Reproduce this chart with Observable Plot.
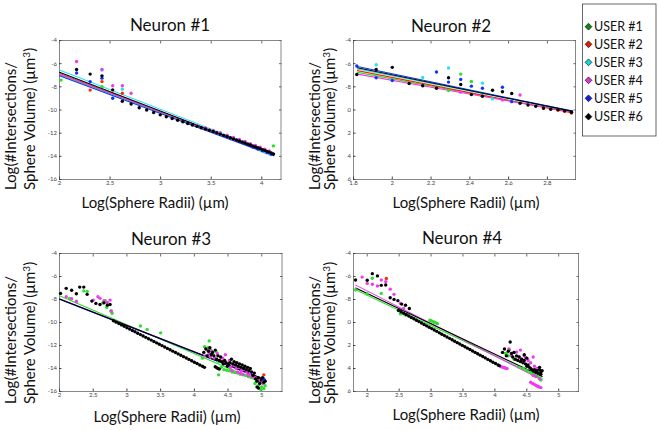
<!DOCTYPE html>
<html><head><meta charset="utf-8">
<script src="https://cdn.jsdelivr.net/npm/d3@7"></script>
<script src="https://cdn.jsdelivr.net/npm/@observablehq/plot@0.6"></script>
<style>
body{margin:0;background:#fff;}
#root{position:relative;width:659px;height:430px;overflow:hidden;background:#fff;font-family:Lato,"Open Sans",sans-serif;}
#overlay{position:absolute;left:0;top:0;}
</style></head><body><div id="root"></div>
<script>
// ---------- categories / labels ----------
const users = ["USER #1","USER #2","USER #3","USER #4","USER #5","USER #6"];
const userColors = ["#2de02d","#ff2a00","#22e4ee","#ee3cee","#1034ff","#000000"];
const legendFill = ["#0a8a0a","#e81800","#10d8e0","#e030e0","#1020e0","#000000"];
const panelTitles = ["Neuron #1","Neuron #2","Neuron #3","Neuron #4"];
const xLabel = "Log(Sphere Radii) (µm)";
const yLabel1 = "Log(#Intersections/";
const yLabel2 = "Sphere Volume) (µm";
const yTicks = [-4,-6,-8,-10,-12,-14,-16];
const n1_xTicks = [2,2.5,3,3.5,4];
const n2_xTicks = [1.8,2,2.2,2.4,2.6,2.8];
const n3_xTicks = [2,2.5,3,3.5,4,4.5,5];
const n4_xTicks = [2,2.5,3,3.5,4,4.5,5];

// ---------- Neuron #1 ----------
const n1_user1 = [[2.015,-7.42],[2.42,-7.98],[4.115,-13.1]];
const n1_user2 = [[2.303,-8.28],[2.42,-7.55],[2.621,-8.55]];
const n1_user3 = [[2.42,-6.55],[2.621,-8.2],[3.984,-13.45],[4.03,-13.62],[4.073,-13.78],[4.094,-13.85]];
const n1_user4 = [[2.169,-5.81],[2.42,-6.5],[2.526,-7.9],[2.621,-7.9],[2.708,-8.55],[3.359,-11.35],[3.442,-11.56],[3.519,-11.76],[3.59,-11.97],[3.657,-12.17],[3.72,-12.37],[3.778,-12.55],[3.834,-12.72],[3.887,-12.9],[3.937,-13.06],[3.984,-13.22],[4.03,-13.38],[4.073,-13.53]];
const n1_user5 = [[2.169,-6.8],[2.303,-7.55],[2.42,-7.25],[2.526,-8.98],[3.912,-13.2],[3.961,-13.37],[4.007,-13.53],[4.052,-13.68],[4.094,-13.82]];
const n1_user6 = [[2.169,-6.5],[2.303,-6.9],[2.42,-7.05],[2.526,-8.26],[2.621,-9.25],[2.708,-9.48],[2.788,-9.8],[2.862,-10.0],[2.931,-10.22],[2.996,-10.42],[3.056,-10.58],[3.114,-10.74],[3.168,-10.88],[3.219,-11.02],[3.268,-11.16],[3.314,-11.29],[3.359,-11.41],[3.401,-11.53],[3.442,-11.64],[3.481,-11.75],[3.519,-11.86],[3.555,-11.97],[3.59,-12.08],[3.624,-12.19],[3.657,-12.29],[3.689,-12.39],[3.72,-12.49],[3.75,-12.58],[3.778,-12.67],[3.807,-12.76],[3.834,-12.85],[3.861,-12.94],[3.887,-13.02],[3.912,-13.1],[3.937,-13.18],[3.961,-13.26],[3.984,-13.34],[4.007,-13.42],[4.03,-13.5],[4.052,-13.57],[4.073,-13.64],[4.094,-13.71],[4.115,-13.8]];
const n1_fits = [[2,-6.95,4.12,-13.85],[2,-6.85,4.12,-13.85],[2,-6.55,4.12,-13.75],[2,-6.9,4.12,-13.8],[2,-7.05,4.12,-13.95],[2,-6.75,4.12,-13.85]];

// ---------- Neuron #2 ----------
const n2_user1 = [[2.29,-8.32],[2.353,-6.9],[2.408,-7.54]];
const n2_user2 = [[2.78,-9.87],[2.855,-10.02],[2.889,-10.12],[2.924,-10.26]];
const n2_user3 = [[1.917,-6.09],[2.157,-7.19],[2.29,-6.38],[2.465,-7.68],[2.517,-9.04]];
const n2_user4 = [[2.353,-8.46],[2.568,-9.13],[2.659,-8.7]];
const n2_user5 = [[1.817,-6.2],[1.917,-7.22],[2.0,-7.45],[2.228,-6.72],[2.29,-7.59],[2.353,-7.36],[2.408,-7.94],[2.465,-8.12],[2.568,-8.03],[2.616,-9.28]];
const n2_user6 = [[1.817,-6.93],[1.917,-6.49],[2.0,-6.32],[2.087,-7.71],[2.157,-7.91],[2.228,-8.12],[2.29,-7.22],[2.353,-7.8],[2.408,-8.67],[2.465,-8.81],[2.517,-8.29],[2.568,-8.43],[2.616,-8.58],[2.659,-9.42],[2.70,-9.57],[2.74,-9.68],[2.78,-9.83],[2.817,-9.94],[2.855,-9.97],[2.889,-10.06],[2.924,-10.2]];
const n2_fits = [[1.82,-6.75,2.93,-10.2],[1.82,-6.6,2.93,-10.25],[1.82,-6.45,2.93,-10.1],[1.82,-6.9,2.93,-10.2],[1.82,-6.25,2.93,-10.1],[1.82,-6.35,2.93,-10.12]];

// ---------- Neuron #3 ----------
const n3_user1 = [[2.15,-7.9],[2.25,-8.15],[2.36,-7.25],[2.41,-7.3],[2.64,-8.3],[2.68,-8.1],[2.70,-8.7],[2.76,-9.0],[2.78,-9.2],[3.2,-10.3],[3.3,-10.6],[3.5,-10.9],[4.12,-13.1],[4.15,-12.1],[4.18,-12.9],[4.2,-12.2],[4.22,-11.6],[4.24,-12.4],[4.28,-12.8],[4.32,-12.5],[4.36,-13.4],[4.36,-14.55],[4.4,-13.9],[4.44,-14.1],[4.48,-14.15],[4.52,-14.2],[4.56,-14.3],[4.6,-14.35],[4.64,-14.4],[4.68,-14.5],[4.72,-14.55],[4.76,-14.6],[4.8,-14.7],[4.84,-14.75],[4.88,-14.8],[4.9,-15.3],[4.92,-15.1],[4.96,-15.4],[4.98,-15.8],[5.0,-15.6],[5.03,-15.75],[5.05,-15.5]];
const n3_user2 = [[5.03,-14.55]];
const n3_user3 = [];
const n3_user4 = [[2.1,-7.76],[2.18,-7.94],[2.25,-8.2],[2.5,-8.05],[2.57,-7.76],[2.6,-7.9],[2.66,-8.1],[2.71,-8.25],[2.75,-8.05],[2.77,-9.0],[4.16,-12.9],[4.2,-12.4],[4.22,-12.7],[4.24,-13.0],[4.26,-12.5],[4.3,-13.1],[4.34,-12.7],[4.38,-13.3],[4.42,-13.1],[4.44,-13.5],[4.46,-12.8],[4.5,-13.6],[4.52,-13.3],[4.54,-13.9],[4.56,-14.2],[4.58,-13.7],[4.62,-14.0],[4.64,-14.3],[4.66,-13.9],[4.68,-14.4],[4.7,-14.2],[4.72,-14.5],[4.74,-14.1],[4.78,-14.3],[4.8,-14.6],[4.82,-14.5],[4.86,-14.7],[4.9,-14.8],[4.94,-15.0],[4.98,-15.2],[5.02,-15.3]];
const n3_user5 = [[5.02,-14.85],[5.04,-15.0]];
const n3_user6 = [[2.015,-7.47],[2.1,-7.03],[2.18,-7.2],[2.25,-7.5],[2.3,-6.92],[2.36,-6.92],[2.41,-7.55],[2.48,-8.14],[2.54,-8.34],[2.6,-8.43],[2.66,-8.29],[2.71,-8.49],[2.75,-8.43],
  [2.8,-9.85],[2.84,-9.97],[2.88,-10.09],[2.92,-10.21],[2.96,-10.33],[3.0,-10.45],[3.04,-10.57],[3.08,-10.69],[3.12,-10.81],[3.16,-10.93],[3.2,-11.05],[3.24,-11.17],[3.28,-11.29],[3.32,-11.41],[3.36,-11.53],[3.4,-11.65],[3.44,-11.77],[3.48,-11.89],[3.52,-12.01],[3.56,-12.13],[3.6,-12.25],[3.64,-12.37],[3.68,-12.49],[3.72,-12.61],[3.76,-12.73],[3.8,-12.85],[3.84,-12.97],[3.88,-13.09],[3.92,-13.21],[3.96,-13.33],[4.0,-13.45],[4.04,-13.57],[4.08,-13.69],[4.12,-13.81],[4.15,-13.9],
  [4.14,-12.6],[4.17,-12.3],[4.19,-12.9],[4.21,-12.5],[4.23,-12.2],[4.25,-12.8],[4.27,-12.6],[4.29,-12.9],[4.31,-12.4],[4.33,-13.2],[4.35,-12.9],[4.37,-13.3],[4.39,-13.0],[4.41,-13.4],[4.43,-13.6],[4.45,-13.3],[4.47,-13.5],[4.49,-13.8],[4.51,-13.6],[4.53,-13.5],[4.55,-13.2],[4.57,-13.6],[4.59,-13.4],[4.61,-13.7],[4.63,-13.5],[4.65,-13.8],[4.67,-13.6],[4.69,-13.9],[4.71,-13.7],[4.73,-14.0],[4.75,-13.8],[4.77,-14.1],[4.79,-13.9],[4.81,-14.2],[4.83,-14.0],[4.85,-14.3],[4.87,-14.6],[4.89,-14.4],[4.91,-14.9],[4.93,-15.1],[4.95,-14.8],[4.97,-15.3],[4.99,-15.0],[5.01,-14.8],[5.03,-15.2],[5.05,-15.1],
  [4.31,-13.85],[4.33,-13.92],[4.35,-14.0],[4.37,-14.05],[4.93,-15.6],[4.95,-15.7]];
const n3_fits = [[2,-7.67,5.05,-15.35],null,null,[2,-7.93,5.05,-14.95],[2,-7.98,5.05,-15.0],[2,-7.96,5.05,-14.98]];

// ---------- Neuron #4 ----------
const n4_user1 = [[1.817,-7.15],[2.0,-7.5],[2.08,-6.15],[2.22,-7.47],[2.52,-9.25],[2.6,-9.36],[2.98,-9.8],[3.0,-9.85],[3.02,-9.9],[3.04,-9.95],[3.06,-10.0],[3.08,-10.05],[3.1,-10.1],[4.17,-12.7],[4.19,-12.8],[4.21,-12.9],[4.23,-12.4],[4.3,-13.2],[4.38,-13.9],[4.45,-14.0],[4.5,-14.2],[4.56,-14.35],[4.6,-14.5],[4.64,-14.6],[4.67,-14.7],[4.7,-14.9],[4.72,-15.0]];
const n4_user2 = [[2.3,-6.17]];
const n4_user3 = [];
const n4_user4 = [[1.92,-6.05],[2.0,-6.6],[2.08,-6.68],[2.16,-6.83],[2.22,-6.3],[2.29,-6.45],[2.36,-7.1],[2.42,-7.55],[2.52,-8.34],[2.57,-8.78],[4.09,-13.82],[4.11,-13.86],[4.13,-13.9],[4.15,-13.94],[4.17,-13.97],[4.19,-14.0],[4.22,-12.3],[4.26,-12.9],[4.3,-12.6],[4.34,-12.57],[4.38,-13.0],[4.4,-12.4],[4.42,-13.2],[4.46,-12.9],[4.48,-13.04],[4.52,-13.3],[4.56,-13.5],[4.6,-13.0],[4.62,-13.8],[4.66,-14.0],[4.6,-14.6],[4.64,-14.7],[4.7,-14.9],[4.56,-15.2],[4.58,-15.27],[4.6,-15.33],[4.62,-15.4],[4.64,-15.46],[4.66,-15.52],[4.68,-15.57],[4.7,-15.62],[4.72,-15.66]];
const n4_user5 = [];
const n4_user6 = [[1.817,-6.3],[2.0,-6.33],[2.08,-5.75],[2.16,-5.95],[2.22,-6.77],[2.29,-6.74],[2.36,-7.85],[2.42,-7.99],[2.48,-8.1],[2.54,-8.4],[2.6,-8.5],[2.66,-8.78],
  [2.49,-8.95],[2.53,-9.07],[2.57,-9.19],[2.61,-9.31],[2.65,-9.44],[2.69,-9.56],[2.73,-9.68],[2.77,-9.8],[2.81,-9.92],[2.85,-10.04],[2.89,-10.17],[2.93,-10.29],[2.97,-10.41],[3.01,-10.53],[3.05,-10.65],[3.09,-10.77],[3.13,-10.9],[3.17,-11.02],[3.21,-11.14],[3.25,-11.26],[3.29,-11.38],[3.33,-11.5],[3.37,-11.63],[3.41,-11.75],[3.45,-11.87],[3.49,-11.99],[3.53,-12.11],[3.57,-12.23],[3.61,-12.35],[3.65,-12.48],[3.69,-12.6],[3.73,-12.72],[3.77,-12.84],[3.81,-12.96],[3.85,-13.08],[3.89,-13.21],[3.93,-13.33],[3.97,-13.45],[4.01,-13.57],[4.05,-13.69],[4.07,-13.75],
  [4.12,-12.6],[4.15,-12.3],[4.18,-12.9],[4.21,-12.5],[4.24,-11.7],[4.26,-12.7],[4.28,-13.0],[4.3,-12.6],[4.32,-13.2],[4.34,-12.9],[4.36,-13.3],[4.38,-13.0],[4.4,-13.4],[4.42,-13.2],[4.44,-13.5],[4.46,-13.3],[4.46,-12.8],[4.48,-13.6],[4.5,-13.8],[4.5,-13.1],[4.52,-13.7],[4.54,-13.9],[4.56,-14.0],[4.58,-14.1],[4.6,-14.2],[4.62,-14.1],[4.64,-14.3],[4.66,-14.2],[4.68,-14.4],[4.7,-14.1],[4.7,-13.9],[4.72,-14.3],[4.72,-14.5],[4.74,-14.2]];
const n4_fits = [[1.82,-7.15,4.74,-14.85],null,null,[1.82,-6.75,4.74,-15.0],null,[1.82,-7.0,4.74,-14.7]];

// ---------- build ----------
const root = document.getElementById("root");
const fmt = d => String(d);
const axisColor = "#6a6a6a";

function panel(cfg){
  const ml = 30, mr = 6, mt = 6, mb = 14;
  const w = cfg.R - cfg.L, h = cfg.B - cfg.T;
  const marks = [
    Plot.frame({stroke: axisColor, strokeWidth: 0.8}),
    Plot.axisX({ticks: cfg.xticks, tickSize: -2.5, tickPadding: 4, tickFormat: fmt, color: "#444", label: null}),
    Plot.axisX({anchor: "top", ticks: cfg.xticks, tickSize: -2.5, tickFormat: () => "", color: axisColor, label: null}),
    Plot.axisY({ticks: yTicks, tickSize: -2.5, tickPadding: 5, tickFormat: fmt, color: "#444", label: null}),
    Plot.axisY({anchor: "right", ticks: yTicks, tickSize: -2.5, tickFormat: () => "", color: axisColor, label: null})
  ];
  cfg.fits.forEach((f, i) => {
    if (f) marks.push(Plot.line([[f[0], f[1]], [f[2], f[3]]], {x: d => d[0], y: d => d[1], stroke: userColors[i], strokeWidth: 1.1}));
  });
  cfg.series.forEach((s, i) => {
    marks.push(Plot.dot(s, {x: d => d[0], y: d => d[1], r: 1.7, fill: userColors[i]}));
  });
  const svg = Plot.plot({
    width: w + ml + mr, height: h + mt + mb,
    marginLeft: ml, marginRight: mr, marginTop: mt, marginBottom: mb,
    x: {domain: cfg.xdom}, y: {domain: [-16, -4]},
    style: {fontSize: "6px", fontFamily: "Lato, sans-serif", background: "transparent", overflow: "visible"},
    marks
  });
  svg.style.position = "absolute";
  svg.style.left = (cfg.L - ml) + "px";
  svg.style.top = (cfg.T - mt) + "px";
  root.appendChild(svg);
}

panel({L: 58.5, T: 40, R: 280, B: 179, xdom: [2, 4.19], xticks: n1_xTicks,
  series: [n1_user1, n1_user2, n1_user3, n1_user4, n1_user5, n1_user6], fits: n1_fits});
panel({L: 353, T: 40, R: 575, B: 179, xdom: [1.8, 2.945], xticks: n2_xTicks,
  series: [n2_user1, n2_user2, n2_user3, n2_user4, n2_user5, n2_user6], fits: n2_fits});
panel({L: 58.5, T: 253, R: 281, B: 391, xdom: [2, 5.3], xticks: n3_xTicks,
  series: [n3_user1, n3_user2, n3_user3, n3_user4, n3_user5, n3_user6], fits: n3_fits});
panel({L: 353, T: 253, R: 578, B: 391, xdom: [1.785, 5.31], xticks: n4_xTicks,
  series: [n4_user1, n4_user2, n4_user3, n4_user4, n4_user5, n4_user6], fits: n4_fits});

// ---------- overlay text, legend ----------
const ov = d3.select(root).append("svg").attr("id", "overlay").attr("width", 659).attr("height", 430)
  .style("font-family", "Lato, 'Open Sans', sans-serif");

// white covers that clip the right-panel tick labels like in the reference
[[296, 94, 51, 94], [296, 308, 51, 92]].forEach(([x, y, w, h]) =>
  ov.append("rect").attr("x", x).attr("y", y).attr("width", w).attr("height", h).attr("fill", "#fff"));

const titlePos = [[170, 31], [451, 31.5], [171, 245], [462, 244]];
titlePos.forEach(([x, y], i) =>
  ov.append("text").attr("x", x).attr("y", y).attr("text-anchor", "middle")
    .attr("font-size", 17).attr("fill", "#111").text(panelTitles[i]));

const xLabPos = [[155, 208], [466, 208], [167, 422], [466, 420]];
xLabPos.forEach(([x, y]) =>
  ov.append("text").attr("x", x).attr("y", y).attr("text-anchor", "middle")
    .attr("font-size", 15).attr("fill", "#111").text(xLabel));

// y labels: [baseline x line1, baseline x line2, start y]
const yLabPos = [[16, 35, 190], [320, 335, 190], [16, 35, 404], [320, 335, 404]];
yLabPos.forEach(([x1, x2, y]) => {
  ov.append("text").attr("transform", `translate(${x1},${y}) rotate(-90)`)
    .attr("font-size", 15).attr("fill", "#111").text(yLabel1);
  const t = ov.append("text").attr("transform", `translate(${x2},${y}) rotate(-90)`)
    .attr("font-size", 15).attr("fill", "#111");
  t.append("tspan").text(yLabel2);
  t.append("tspan").attr("dy", -5).attr("font-size", 10).text("3");
  t.append("tspan").attr("dy", 5).text(")");
});

// legend
ov.append("rect").attr("x", 582.5).attr("y", 4).attr("width", 73.5).attr("height", 132)
  .attr("fill", "#fff").attr("stroke", "#444").attr("stroke-width", 0.8);
const legendRows = [26.7, 44.3, 62.3, 80.3, 98.3, 116.7];
users.forEach((u, i) => {
  const y = legendRows[i];
  ov.append("path").attr("d", `M588.5,${y - 3.4}L591.9,${y}L588.5,${y + 3.4}L585.1,${y}Z`)
    .attr("fill", legendFill[i]).attr("stroke", "#111").attr("stroke-width", 0.7);
  ov.append("text").attr("x", 594).attr("y", y + 4.4).attr("font-size", 12.5).attr("fill", "#111").text(u);
});
</script></body></html>
